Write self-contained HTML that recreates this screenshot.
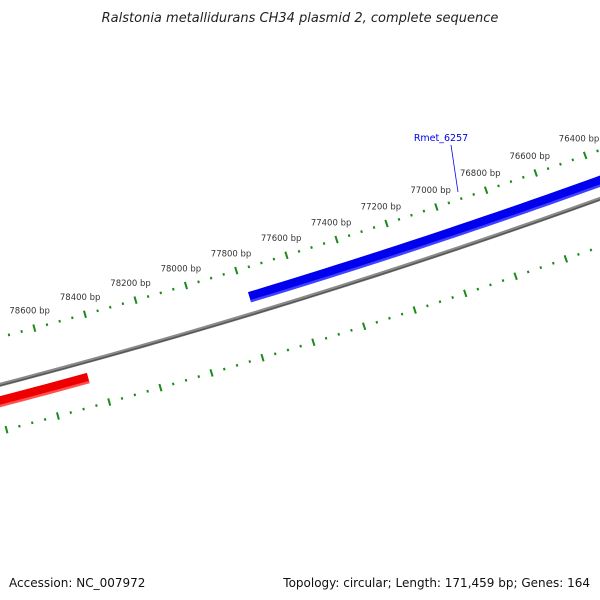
<!DOCTYPE html>
<html><head><meta charset="utf-8"><style>
html,body{margin:0;padding:0;background:#fff;}
svg{display:block;font-family:"DejaVu Sans","Liberation Sans",sans-serif;}
</style></head><body>
<svg id="map" width="600" height="600" viewBox="0 0 600 600">
<text x="300" y="22" text-anchor="middle" font-size="13" font-style="italic" fill="#222">Ralstonia metallidurans CH34 plasmid 2, complete sequence</text>
<g id="layer"></g>
<text x="9" y="587" font-size="12" fill="#111">Accession: NC_007972</text>
<text x="590" y="587" text-anchor="end" font-size="12" fill="#111">Topology: circular; Length: 171,459 bp; Genes: 164</text>
</svg>
<script>
const genomeLength = 171459;
const tickStart = 76000;
const tickEnd = 79200;
const minorStep = 50;
const majorStep = 200;
const featureNames = ["Rmet_6257", "red-feature"];
const featureStarts = [75800, 78452];
const featureEnds = [77781, 79600];
const featureStrands = [1, -1];
const labeledFeature = "Rmet_6257";

const CX = -1769, CY = -6388;
const REF_BP = 77000, REF_ANG = 71.51, SCALE = 1.03;
const R_BACK = 7000, R_TICK_IN = 6954, R_TICK_OUT = 7045, R_LABEL = 6936;
const NS = "http://www.w3.org/2000/svg";
const layer = document.getElementById('layer');

function ang(bp){ return (REF_ANG + (bp - REF_BP) * SCALE * 360 / genomeLength) * Math.PI / 180; }
function pt(bp, r){ const a = ang(bp); return [CX + r*Math.cos(a), CY + r*Math.sin(a)]; }
function arcPath(b1, b2, r){
  let d = "", n = 40;
  for (let i = 0; i <= n; i++){ const p = pt(b1 + (b2-b1)*i/n, r); d += (i ? "L" : "M") + p[0].toFixed(2) + "," + p[1].toFixed(2); }
  return d;
}
function mk(tag, attrs){ const e = document.createElementNS(NS, tag); for (const k in attrs) e.setAttribute(k, attrs[k]); layer.appendChild(e); return e; }

let bb = mk('path', {d: arcPath(tickStart-1500, tickEnd+1500, R_BACK), stroke: '#8a8a8a', 'stroke-width': 4, fill: 'none'});


let bb2 = mk('path', {d: arcPath(tickStart-1500, tickEnd+1500, R_BACK+0.8), stroke: '#555', 'stroke-width': 1.4, fill: 'none'});



for (let i = 0; i < featureNames.length; i++){
  const fwd = featureStrands[i] > 0;
  const r = fwd ? 6983 : 7016;
  const main = fwd ? '#0000ee' : '#ee0000';
  const light = fwd ? '#4040ff' : '#ff5050';
  const g = mk('path', {d: arcPath(featureStarts[i], featureEnds[i], r), stroke: main, 'stroke-width': 10, fill: 'none'});
  
  
  const h = mk('path', {d: arcPath(featureStarts[i], featureEnds[i], r+4.5), stroke: light, 'stroke-width': 2.5, fill: 'none'});
  
  
}

for (let bp = tickStart; bp <= tickEnd; bp += minorStep){
  const major = bp % majorStep === 0;
  const len = major ? 7.5 : 2.5;
  [R_TICK_IN, R_TICK_OUT].forEach((r, j) => {
    const p1 = pt(bp, r - len/2), p2 = pt(bp, r + len/2);
    const t = mk('line', {x1: p1[0], y1: p1[1], x2: p2[0], y2: p2[1], stroke: '#1a8a1a', 'stroke-width': 2});
    
    
  });
  if (major){
    const p = pt(bp, R_LABEL);
    const lb = mk('text', {x: p[0], y: p[1] + 3, 'text-anchor': 'middle', 'font-size': 8.5, fill: '#333'});
    lb.textContent = bp + ' bp';
    
    
  }
}

const ln = mk('line', {x1: 451, y1: 145, x2: 458, y2: 192, stroke: '#0000ee', 'stroke-width': 0.8});


const gl = mk('text', {x: 441, y: 141, 'text-anchor': 'middle', 'font-size': 9.5, fill: '#0000ee'});
gl.textContent = labeledFeature;


</script>
</body></html>
